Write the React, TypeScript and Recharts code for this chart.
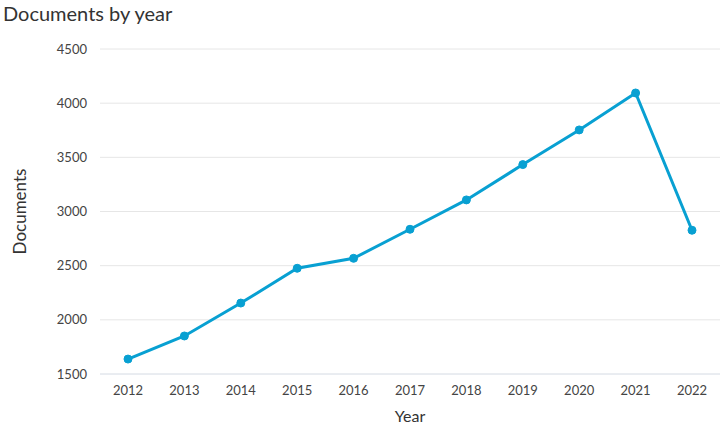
import React from "react";
import { LineChart, Line, XAxis, YAxis, CartesianGrid, Label } from "recharts";

const years = ["2012", "2013", "2014", "2015", "2016", "2017", "2018", "2019", "2020", "2021", "2022"];
const documents = [1638, 1851, 2155, 2476, 2568, 2836, 3107, 3433, 3753, 4094, 2827];
const yTicks = [1500, 2000, 2500, 3000, 3500, 4000, 4500];

const data = years.map((y, i) => ({ year: y, documents: documents[i] }));

const FONT = "Lato, 'Open Sans', sans-serif";
const LINE = "#08a0d2";

export default function App() {
  return (
    <div style={{ position: "absolute", left: 0, top: 0, width: 725, height: 428, background: "#fff", fontFamily: FONT }}>
      <div style={{ position: "absolute", left: 3, top: 0, fontSize: 20, color: "#333", lineHeight: "26px" }}>
        Documents by year
      </div>
      <LineChart width={725} height={428} data={data} margin={{ top: 49, right: 5, left: 0, bottom: 24 }}>
        <CartesianGrid vertical={false} stroke="#e6e6e6" />
        <XAxis
          dataKey="year"
          height={30}
          padding={{ left: 28, right: 28 }}
          tickLine={false}
          axisLine={{ stroke: "#e0e6ef" }}
          tick={{ fill: "#444", fontSize: 13, fontFamily: FONT }}
          tickMargin={6}
        >
          <Label value="Year" position="bottom" offset={7} style={{ fill: "#333", fontSize: 16, fontFamily: FONT }} />
        </XAxis>
        <YAxis
          width={100}
          domain={[1500, 4500]}
          ticks={yTicks}
          axisLine={false}
          tickLine={false}
          tickMargin={7}
          tick={{ fill: "#444", fontSize: 13, fontFamily: FONT }}
        >
          <Label
            value="Documents"
            angle={-90}
            position="insideLeft"
            offset={20}
            style={{ fill: "#333", fontSize: 17, fontFamily: FONT, textAnchor: "middle" }}
          />
        </YAxis>
        <Line
          type="linear"
          dataKey="documents"
          stroke={LINE}
          strokeWidth={3}
          dot={{ r: 4, fill: LINE, stroke: LINE, strokeWidth: 1 }}
          isAnimationActive={false}
        />
      </LineChart>
    </div>
  );
}
